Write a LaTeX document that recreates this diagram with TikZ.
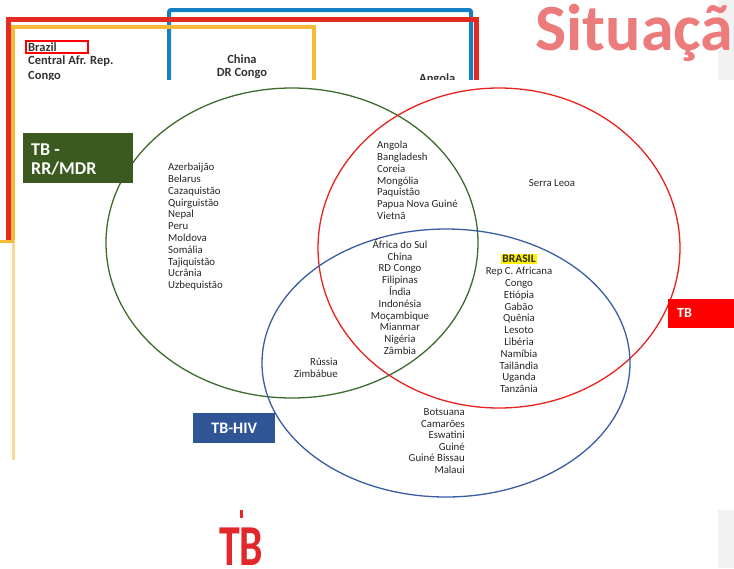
\documentclass[tikz,border=0pt]{standalone}
\usepackage{fontspec}
\usepackage{graphicx}
\setmainfont{Carlito}
\definecolor{titlered}{HTML}{EC7B7B}
\definecolor{frred}{HTML}{E52A24}
\definecolor{frblue}{HTML}{1581C5}
\definecolor{fryellow}{HTML}{F8B938}
\definecolor{vgreen}{HTML}{3F6B2C}
\definecolor{vred}{HTML}{E8221E}
\definecolor{vblue}{HTML}{3A5DA3}
\definecolor{boxgreen}{HTML}{3B5A1F}
\definecolor{boxblue}{HTML}{2F5597}
\definecolor{logored}{HTML}{E3262A}
\begin{document}
\begin{tikzpicture}[x=1pt,y=-1pt,
  lst/.style={inner sep=0pt, align=center, font=\fontsize{10.8}{11.8}\selectfont, text=black!85},
  toptxt/.style={inner sep=0pt, font=\fontsize{12.5}{13}\selectfont\bfseries, text=black!80},
  venn/.style={line width=1.3pt},
  lbl/.style={inner sep=0pt, text=white, font=\bfseries}]
\useasboundingbox (0,0) rectangle (734,568);
\clip (0,0) rectangle (734,568);
\fill[white] (0,0) rectangle (734,568);
% right grey strips
\fill[black!5] (718,0) rectangle (734,80);
\fill[black!5] (718,510) rectangle (734,568);
% top framed image (partly hidden)
\draw[frblue, line width=4pt, rounded corners=2pt] (169,80) -- (169,10) -- (471,10) -- (471,80);
\draw[frred, line width=5pt] (8,240) -- (8,19) -- (476,19) -- (476,80);
\draw[fryellow, line width=4pt] (13,240) -- (13,27) -- (314,27) -- (314,80);
\draw[fryellow!55, line width=3pt] (13,240) -- (13,460);
\draw[fryellow, line width=3pt] (0,241) -- (14,241);
\node[toptxt, anchor=west] (brazil) at (28,47) {Brazil};
\draw[red, line width=1.2pt] (26,41) rectangle (88,53);
\node[toptxt, anchor=west] (car) at (28,61) {Central Afr. Rep.};
\node[toptxt, anchor=west] (congo0) at (28,76) {Congo};
\node[toptxt] (china0) at (242,59) {China};
\node[toptxt] (drc0) at (242,73) {DR Congo};
\node[toptxt, anchor=west] (angola0) at (419,79) {Angola};
% overlay of the Venn slide
\fill[white] (15,80) rectangle (718,510);
\fill[white] (15,510) rectangle (718,568);
% title
\node[anchor=base west, inner sep=0pt, text=titlered, font=\bfseries\fontsize{66}{66}\selectfont] (title) at (535,50) {Situação};
% Venn ellipses
\draw[venn, vgreen] (292,243) ellipse [x radius=186, y radius=155];
\draw[venn, vred] (499,248) ellipse [x radius=181, y radius=160];
\draw[venn, vblue] (446,363) ellipse [x radius=184, y radius=134];
% labels
\node[lbl, fill=boxgreen, minimum width=110pt, minimum height=50pt, anchor=north west] (lmdr) at (23,133) {};
\node[lbl, anchor=west, align=left, font=\bfseries\fontsize{18}{19}\selectfont] (lmdrt) at (31,160) {TB -\\RR/MDR};
\node[lbl, fill=boxblue, minimum width=82pt, minimum height=30pt, anchor=north west] (lhiv) at (193,413) {};
\node[lbl, font=\bfseries\fontsize{16}{16}\selectfont] (lhivt) at (lhiv.center) {TB-HIV};
\node[lbl, fill=red, minimum width=66pt, minimum height=29pt, anchor=north west] (ltb) at (668,299) {};
\node[lbl, anchor=west, font=\bfseries\fontsize{14}{14}\selectfont] (ltbt) at (677,313) {TB};
% country lists
\node[lst, align=left, anchor=north west] (mdr) at (168,162) {\rule{0pt}{8.5pt}Azerbaijão\\Belarus\\Cazaquistão\\Quirguistão\\Nepal\\Peru\\Moldova\\Somália\\Tajiquistão\\Ucrânia\\Uzbequistão};
\node[lst, align=left, anchor=north west] (mdrtb) at (377,140) {\rule{0pt}{8.5pt}Angola\\Bangladesh\\Coreia\\Mongólia\\Paquistão\\Papua Nova Guiné\\Vietnã};
\node[lst, anchor=north] (all) at (400,239) {\rule{0pt}{8.5pt}África do Sul\\China\\RD Congo\\Filipinas\\Índia\\Indonésia\\Moçambique\\Mianmar\\Nigéria\\Zâmbia};
\node[lst] (serra) at (552,183) {Serra Leoa};
\node[lst, fill=yellow, inner xsep=1.5pt, inner ysep=1.5pt, font=\fontsize{11.5}{11.8}\selectfont\bfseries] (brasil) at (519,259) {BRASIL};
\node[lst, anchor=north] (tbhiv) at (519,266) {\rule{0pt}{8.5pt}Rep C. Africana\\Congo\\Etiópia\\Gabão\\Quênia\\Lesoto\\Libéria\\Namíbia\\Tailândia\\Uganda\\Tanzânia};
\node[lst, align=right, anchor=north east] (mdrhiv) at (338,357) {\rule{0pt}{8.5pt}Rússia\\Zimbábue};
\node[lst, align=right, anchor=north east, font=\fontsize{10.8}{11.5}\selectfont] (hiv) at (465,407) {\rule{0pt}{8.5pt}Botsuana\\Camarões\\Eswatini\\Guiné\\Guiné Bissau\\Malaui};
% bottom logo
\fill[logored] (240,510) rectangle (243,518);
\node[inner sep=0pt, anchor=base west, text=logored, font=\bfseries\fontsize{58}{58}\selectfont] (logo) at (219,565) {\scalebox{0.72}[1]{TB}};
\end{tikzpicture}
\end{document}
